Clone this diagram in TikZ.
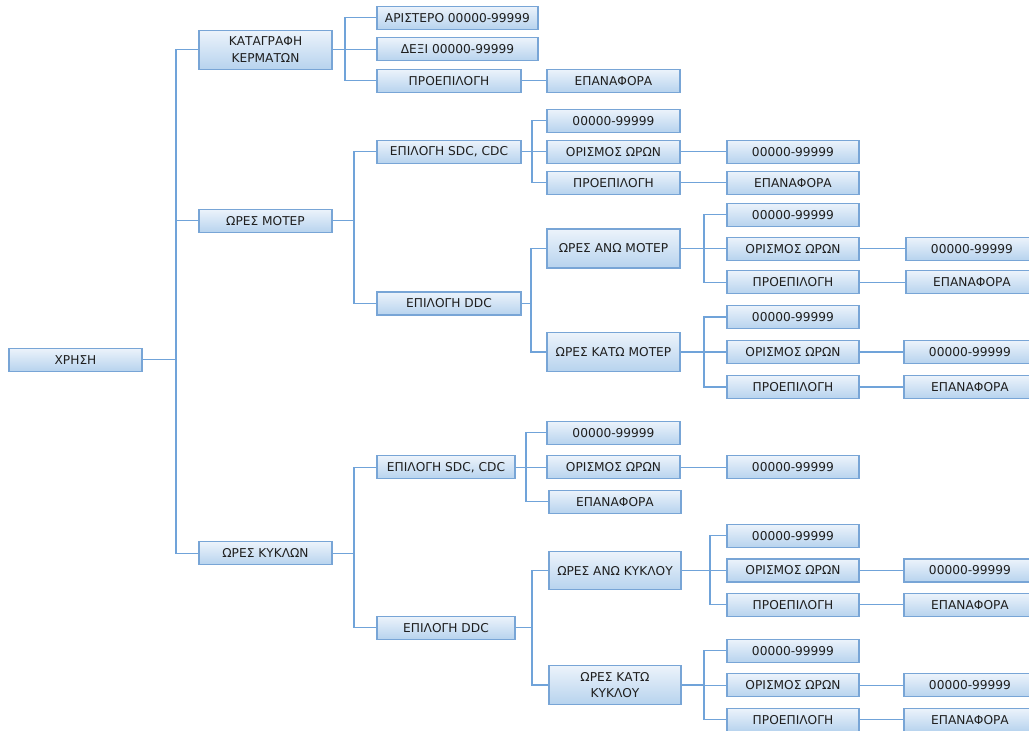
\documentclass[tikz,border=0pt]{standalone}
\usepackage{fontspec}
\setmainfont{DejaVu Sans}
\begin{document}
\begin{tikzpicture}[x=1pt,y=-1pt,
  box/.style={draw=boxline, line width=1.1pt, top color=boxtop, bottom color=boxbot,
    minimum height=23pt, inner sep=0pt, align=center, text=black!88,
    font=\fontsize{12.2}{16.5}\selectfont},
  conn/.style={draw=connline, line width=1.2pt}]
\definecolor{boxline}{RGB}{120,165,214}
\definecolor{boxtop}{RGB}{236,243,251}
\definecolor{boxbot}{RGB}{183,211,238}
\definecolor{connline}{RGB}{112,163,217}
\useasboundingbox (0,0) rectangle (1029,731);
\clip (0,0) rectangle (1029,731);
\fill[white] (0,0) rectangle (1029,731);
% level 0
\node[box, minimum width=133pt] (n0) at (75.5,359.7) {ΧΡΗΣΗ};
% level 1
\node[box, minimum width=133pt, minimum height=39pt] (a1) at (265.5,49.7) {ΚΑΤΑΓΡΑΦΗ\\ΚΕΡΜΑΤΩΝ};
\node[box, minimum width=133pt] (a2) at (265.5,220.8) {ΩΡΕΣ ΜΟΤΕΡ};
\node[box, minimum width=133pt] (a3) at (265.5,553.3) {ΩΡΕΣ ΚΥΚΛΩΝ};
% kermata
\node[box, minimum width=161pt] (b1) at (457.5,17.7) {ΑΡΙΣΤΕΡΟ 00000-99999};
\node[box, minimum width=161pt] (b2) at (457.5,49.3) {ΔΕΞΙ 00000-99999};
\node[box, minimum width=144pt] (b3) at (449,80.8) {ΠΡΟΕΠΙΛΟΓΗ};
\node[box, minimum width=133pt] (b4) at (613.5,80.8) {ΕΠΑΝΑΦΟΡΑ};
% motor
\node[box, minimum width=144pt] (c1) at (449,151.8) {ΕΠΙΛΟΓΗ SDC, CDC};
\node[box, minimum width=144pt] (c2) at (449,303.5) {ΕΠΙΛΟΓΗ DDC};
\node[box, minimum width=133pt] (d1) at (613.5,120.7) {00000-99999};
\node[box, minimum width=133pt] (d2) at (613.5,151.8) {ΟΡΙΣΜΟΣ ΩΡΩΝ};
\node[box, minimum width=133pt] (d3) at (613.5,182.8) {ΠΡΟΕΠΙΛΟΓΗ};
\node[box, minimum width=132pt] (d2r) at (793,151.8) {00000-99999};
\node[box, minimum width=132pt] (d3r) at (793,182.8) {ΕΠΑΝΑΦΟΡΑ};
\node[box, minimum width=133pt, minimum height=39pt] (e1) at (613.5,248.5) {ΩΡΕΣ ΑΝΩ ΜΟΤΕΡ};
\node[box, minimum width=133pt, minimum height=39pt] (e2) at (613.5,352) {ΩΡΕΣ ΚΑΤΩ ΜΟΤΕΡ};
\node[box, minimum width=132pt] (f1) at (793,214.7) {00000-99999};
\node[box, minimum width=132pt] (f2) at (793,248.7) {ΟΡΙΣΜΟΣ ΩΡΩΝ};
\node[box, minimum width=132pt] (f3) at (793,282.3) {ΠΡΟΕΠΙΛΟΓΗ};
\node[box, minimum width=132pt] (f2r) at (972,248.7) {00000-99999};
\node[box, minimum width=132pt] (f3r) at (972,282.3) {ΕΠΑΝΑΦΟΡΑ};
\node[box, minimum width=132pt] (g1) at (793,317) {00000-99999};
\node[box, minimum width=132pt] (g2) at (793,352) {ΟΡΙΣΜΟΣ ΩΡΩΝ};
\node[box, minimum width=132pt] (g3) at (793,387) {ΠΡΟΕΠΙΛΟΓΗ};
\node[box, minimum width=132pt] (g2r) at (970,352) {00000-99999};
\node[box, minimum width=132pt] (g3r) at (970,387) {ΕΠΑΝΑΦΟΡΑ};
% cycles
\node[box, minimum width=138pt] (h1) at (446,467.3) {ΕΠΙΛΟΓΗ SDC, CDC};
\node[box, minimum width=138pt] (h2) at (446,627.8) {ΕΠΙΛΟΓΗ DDC};
\node[box, minimum width=133pt] (i1) at (613.5,432.8) {00000-99999};
\node[box, minimum width=133pt] (i2) at (613.5,467.3) {ΟΡΙΣΜΟΣ ΩΡΩΝ};
\node[box, minimum width=132pt] (i3) at (615,501.7) {ΕΠΑΝΑΦΟΡΑ};
\node[box, minimum width=132pt] (i2r) at (793,467.3) {00000-99999};
\node[box, minimum width=132pt, minimum height=38pt] (j1) at (615,570.8) {ΩΡΕΣ ΑΝΩ ΚΥΚΛΟΥ};
\node[box, minimum width=132pt, minimum height=39pt] (j2) at (615,685) {ΩΡΕΣ ΚΑΤΩ\\ΚΥΚΛΟΥ};
\node[box, minimum width=132pt] (k1) at (793,535.8) {00000-99999};
\node[box, minimum width=132pt] (k2) at (793,570.5) {ΟΡΙΣΜΟΣ ΩΡΩΝ};
\node[box, minimum width=132pt] (k3) at (793,604.8) {ΠΡΟΕΠΙΛΟΓΗ};
\node[box, minimum width=132pt] (k2r) at (970,570.5) {00000-99999};
\node[box, minimum width=132pt] (k3r) at (970,604.8) {ΕΠΑΝΑΦΟΡΑ};
\node[box, minimum width=132pt] (l1) at (793,650.8) {00000-99999};
\node[box, minimum width=132pt] (l2) at (793,685.2) {ΟΡΙΣΜΟΣ ΩΡΩΝ};
\node[box, minimum width=132pt] (l3) at (793,719.8) {ΠΡΟΕΠΙΛΟΓΗ};
\node[box, minimum width=132pt] (l2r) at (970,685.2) {00000-99999};
\node[box, minimum width=132pt] (l3r) at (970,719.8) {ΕΠΑΝΑΦΟΡΑ};
% bus coordinates
\coordinate (bus0) at (176,0);
\coordinate (busA) at (345,0);
\coordinate (busB) at (354,0);
\coordinate (busC) at (532,0);
\coordinate (busD) at (531,0);
\coordinate (busE) at (704,0);
\coordinate (busF) at (354,0);
\coordinate (busG) at (526,0);
\coordinate (busH) at (532,0);
\coordinate (busI) at (710,0);
\coordinate (busJ) at (704,0);
% connectors
\begin{scope}[on background layer/.style={}]
\foreach \c in {a1,a2,a3} \draw[conn] (\c.west) -| (bus0 |- n0.east) -- (n0.east);
\foreach \c in {b1,b2,b3} \draw[conn] (\c.west) -| (busA |- a1.east) -- (a1.east);
\foreach \c in {c1,c2} \draw[conn] (\c.west) -| (busB |- a2.east) -- (a2.east);
\foreach \c in {d1,d2,d3} \draw[conn] (\c.west) -| (busC |- c1.east) -- (c1.east);
\foreach \c in {e1,e2} \draw[conn] (\c.west) -| (busD |- c2.east) -- (c2.east);
\foreach \c in {f1,f2,f3} \draw[conn] (\c.west) -| (busE |- e1.east) -- (e1.east);
\foreach \c in {g1,g2,g3} \draw[conn] (\c.west) -| (busE |- e2.east) -- (e2.east);
\foreach \c in {h1,h2} \draw[conn] (\c.west) -| (busF |- a3.east) -- (a3.east);
\foreach \c in {i1,i2,i3} \draw[conn] (\c.west) -| (busG |- h1.east) -- (h1.east);
\foreach \c in {j1,j2} \draw[conn] (\c.west) -| (busH |- h2.east) -- (h2.east);
\foreach \c in {k1,k2,k3} \draw[conn] (\c.west) -| (busI |- j1.east) -- (j1.east);
\foreach \c in {l1,l2,l3} \draw[conn] (\c.west) -| (busJ |- j2.east) -- (j2.east);
\draw[conn] (b3) -- (b4);
\draw[conn] (d2) -- (d2r);
\draw[conn] (d3) -- (d3r);
\draw[conn] (f2) -- (f2r);
\draw[conn] (f3) -- (f3r);
\draw[conn] (g2) -- (g2r);
\draw[conn] (g3) -- (g3r);
\draw[conn] (i2) -- (i2r);
\draw[conn] (k2) -- (k2r);
\draw[conn] (k3) -- (k3r);
\draw[conn] (l2) -- (l2r);
\draw[conn] (l3) -- (l3r);
\end{scope}
\end{tikzpicture}
\end{document}
